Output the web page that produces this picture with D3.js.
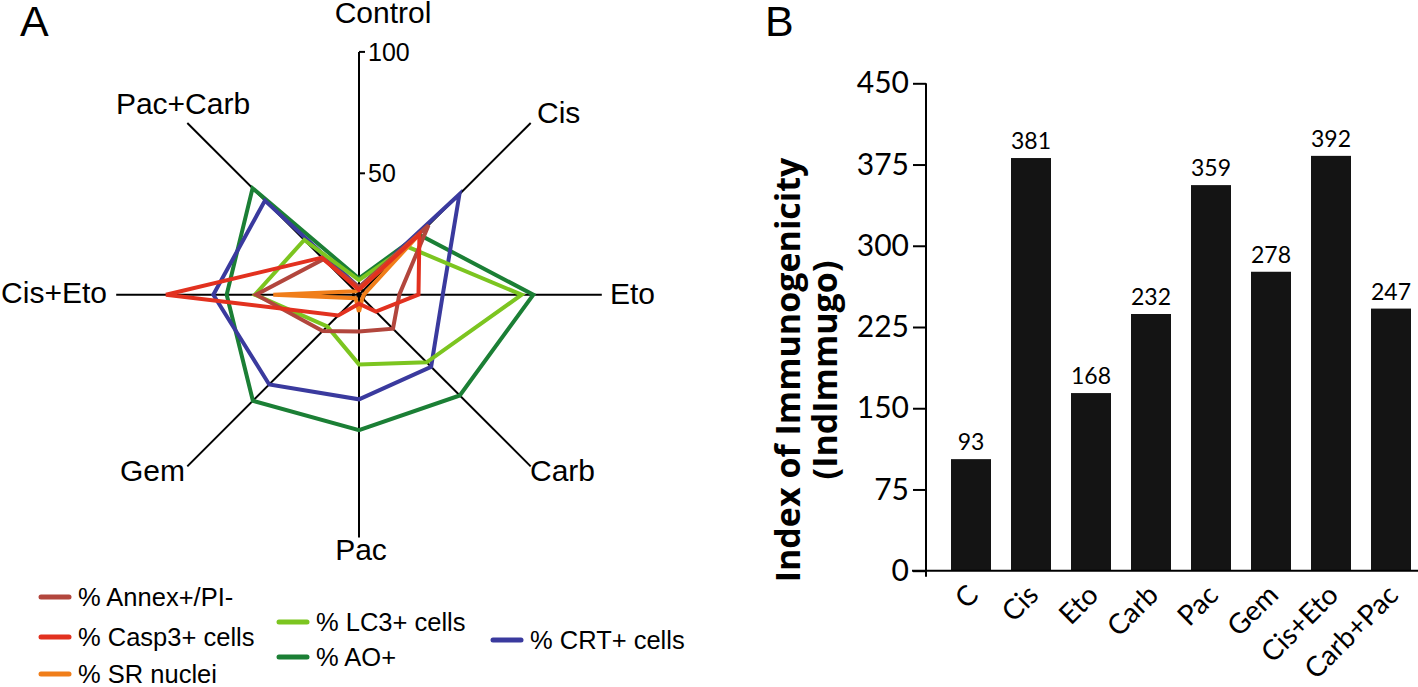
<!DOCTYPE html>
<html>
<head>
<meta charset="utf-8">
<script src="https://cdnjs.cloudflare.com/ajax/libs/d3/7.8.5/d3.min.js"></script>
<style>
  html, body { margin: 0; padding: 0; background: #fff; }
  svg { display: block; }
</style>
</head>
<body>
<svg id="chart" width="1418" height="687"></svg>
<script>
// ---------- Panel A data (radar) ----------
const radarAxes = ["Control", "Cis", "Eto", "Carb", "Pac", "Gem", "Cis+Eto", "Pac+Carb"];
const radarTicks = [50, 100];
const annexPI  = [3, 40.5, 16.6, 19.8, 15.2, 21.2, 42.4, 20.7];
const casp3    = [2, 35.2, 24.5, 9.8, 3.7, 12.1, 79.5, 21.6];
const srNuclei = [2, 34, 2, 2, 7, 2, 35.3, 2];
const lc3      = [6, 28, 67, 39.4, 28.7, 18.5, 42.9, 31.9];
const aoPos    = [6.7, 35, 71.8, 58.7, 55.8, 61.8, 54.5, 62];
const crtPos   = [3, 58.5, 34.5, 42, 43.1, 52.3, 60, 54.8];
const seriesNames = ["% Annex+/PI-", "% Casp3+ cells", "% SR nuclei", "% LC3+ cells", "% AO+", "% CRT+ cells"];

// ---------- Panel B data (bars) ----------
const barCategories = ["C", "Cis", "Eto", "Carb", "Pac", "Gem", "Cis+Eto", "Carb+Pac"];
const barHeights    = [103, 381, 164, 237, 356, 276, 383, 242];
const barLabels     = ["93", "381", "168", "232", "359", "278", "392", "247"];
const barTicks      = [0, 75, 150, 225, 300, 375, 450];

const svg = d3.select("#chart");
const arial = "'Liberation Sans', Arial, Helvetica, sans-serif";
const calibri = "Lato, Carlito, Calibri, sans-serif";

// ===== Panel A =====
svg.append("text").attr("x", 20).attr("y", 36).attr("font-family", arial)
  .attr("font-size", 43).text("A");

const cx = 359, cy = 294.7;
const r = d3.scaleLinear().domain([0, 100]).range([0, 242.8]);
const ang = d3.scalePoint().domain(radarAxes).range([0, 2 * Math.PI * 7 / 8]);
const gA = svg.append("g").attr("transform", `translate(${cx},${cy})`);

// axis spokes
radarAxes.forEach(a => {
  const t = ang(a);
  gA.append("line")
    .attr("x1", 0).attr("y1", 0)
    .attr("x2", r(100) * Math.sin(t)).attr("y2", -r(100) * Math.cos(t))
    .attr("stroke", "#000").attr("stroke-width", 2);
});
// small centre ring
const ring = d3.lineRadial().angle(d => ang(d)).radius(() => 6).curve(d3.curveLinearClosed);
gA.append("path").attr("d", ring(radarAxes)).attr("fill", "none")
  .attr("stroke", "#000").attr("stroke-width", 2.5);

// tick marks on Control axis
radarTicks.forEach(v => {
  gA.append("line").attr("x1", 0).attr("x2", 6).attr("y1", -r(v)).attr("y2", -r(v))
    .attr("stroke", "#000").attr("stroke-width", 2);
  gA.append("text").attr("x", 9).attr("y", -r(v)).attr("dy", "0.36em")
    .attr("font-family", arial).attr("font-size", 25).text(v);
});

// axis labels
const labelPos = {
  "Control":  {dx: 24,   dy: -272, anchor: "middle"},
  "Cis":      {dx: 178,  dy: -172, anchor: "start"},
  "Eto":      {dx: 251,  dy: 9,    anchor: "start"},
  "Carb":     {dx: 171,  dy: 186,  anchor: "start"},
  "Pac":      {dx: 2,    dy: 265,  anchor: "middle"},
  "Gem":      {dx: -174, dy: 186,  anchor: "end"},
  "Cis+Eto":  {dx: -252, dy: 8,    anchor: "end"},
  "Pac+Carb": {dx: -176, dy: -181, anchor: "middle"}
};
radarAxes.forEach(a => {
  const p = labelPos[a];
  gA.append("text").attr("x", p.dx).attr("y", p.dy).attr("text-anchor", p.anchor)
    .attr("font-family", arial).attr("font-size", 30).text(a);
});

const radarSeries = [
  {name: seriesNames[4], values: aoPos,    color: "#1b7f35"},
  {name: seriesNames[5], values: crtPos,   color: "#3a3a9e"},
  {name: seriesNames[3], values: lc3,      color: "#7cc520"},
  {name: seriesNames[0], values: annexPI,  color: "#b2463d"},
  {name: seriesNames[2], values: srNuclei, color: "#f07e1a"},
  {name: seriesNames[1], values: casp3,    color: "#e2311f"}
];
const radial = d3.lineRadial()
  .angle((d, i) => ang(radarAxes[i]))
  .radius(d => r(d))
  .curve(d3.curveLinearClosed);
radarSeries.forEach(s => {
  gA.append("path").attr("d", radial(s.values)).attr("fill", "none")
    .attr("stroke", s.color).attr("stroke-width", 4).attr("stroke-linejoin", "miter");
});

// legend
const legendItems = [
  {name: seriesNames[0], color: "#b2463d", x: 39,  y: 597},
  {name: seriesNames[1], color: "#e2311f", x: 39,  y: 637},
  {name: seriesNames[2], color: "#f07e1a", x: 39,  y: 674},
  {name: seriesNames[3], color: "#7cc520", x: 277, y: 622},
  {name: seriesNames[4], color: "#1b7f35", x: 277, y: 657},
  {name: seriesNames[5], color: "#3a3a9e", x: 491, y: 640}
];
legendItems.forEach(l => {
  svg.append("line").attr("x1", l.x + 2).attr("x2", l.x + 30).attr("y1", l.y).attr("y2", l.y)
    .attr("stroke", l.color).attr("stroke-width", 5).attr("stroke-linecap", "round");
  svg.append("text").attr("x", l.x + 39).attr("y", l.y).attr("dy", "0.36em")
    .attr("font-family", arial).attr("font-size", 25.5).text(l.name);
});

// ===== Panel B =====
svg.append("text").attr("x", 765).attr("y", 36).attr("font-family", arial)
  .attr("font-size", 43).text("B");

const x = d3.scaleBand().domain(barCategories).range([941, 1421])
  .paddingInner(1 / 3).paddingOuter(1 / 6);
const y = d3.scaleLinear().domain([0, 450]).range([570.7, 83.3]);

svg.append("g").selectAll("rect").data(barCategories).join("rect")
  .attr("x", d => x(d)).attr("width", x.bandwidth())
  .attr("y", (d, i) => y(barHeights[i]))
  .attr("height", (d, i) => y(0) - y(barHeights[i]))
  .attr("fill", "#141414");

svg.append("g").selectAll("text").data(barCategories).join("text")
  .attr("x", d => x(d) + x.bandwidth() / 2)
  .attr("y", (d, i) => y(barHeights[i]) - 9)
  .attr("text-anchor", "middle")
  .attr("font-family", calibri).attr("font-size", 23)
  .text((d, i) => barLabels[i]);

// y axis
const yAxis = d3.axisLeft(y).tickValues(barTicks).tickSize(13).tickPadding(4).tickSizeOuter(0);
const gy = svg.append("g").attr("transform", "translate(926,0)").call(yAxis);
gy.select(".domain").remove();
gy.selectAll(".tick line").attr("stroke", "#000").attr("stroke-width", 2);
gy.selectAll(".tick text").attr("font-family", calibri).attr("font-size", 30).attr("fill", "#000");
svg.append("line").attr("x1", 926).attr("x2", 926).attr("y1", y(450)).attr("y2", y(0) + 6)
  .attr("stroke", "#000").attr("stroke-width", 2);
// x axis
svg.append("line").attr("x1", 912).attr("x2", 1418).attr("y1", y(0)).attr("y2", y(0))
  .attr("stroke", "#000").attr("stroke-width", 2);

// x labels
svg.append("g").selectAll("text").data(barCategories).join("text")
  .attr("transform", d => `translate(${x(d) + x.bandwidth() / 2 + 9},${y(0) + 26}) rotate(-45)`)
  .attr("text-anchor", "end")
  .attr("font-family", calibri).attr("font-size", 28)
  .text(d => d);

// y title
const gt = svg.append("g").attr("transform", "translate(808,370) rotate(-90)");
gt.append("text").attr("x", 0).attr("y", -8).attr("text-anchor", "middle")
  .attr("font-family", "'Open Sans', sans-serif").attr("font-weight", "bold").attr("font-size", 34)
  .text("Index of Immunogenicity");
gt.append("text").attr("x", 0).attr("y", 29).attr("text-anchor", "middle")
  .attr("font-family", "'Open Sans', sans-serif").attr("font-weight", "bold").attr("font-size", 34)
  .text("(IndImmugo)");
</script>
</body>
</html>
